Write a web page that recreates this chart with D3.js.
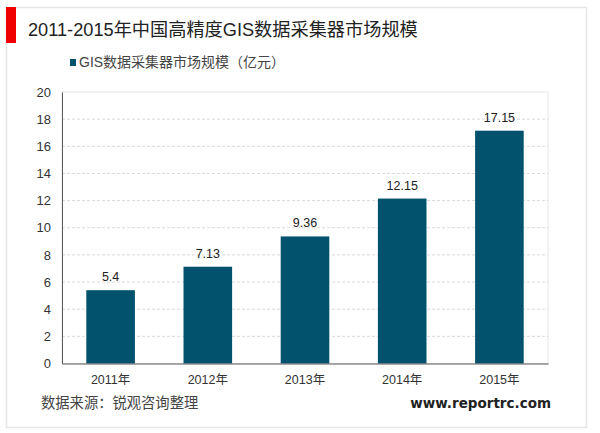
<!DOCTYPE html>
<html>
<head>
<meta charset="utf-8">
<script src="https://cdn.jsdelivr.net/npm/d3@7"></script>
<style>
  html, body { margin: 0; padding: 0; background: #fff; }
  text { font-family: "Liberation Sans", "Noto Sans CJK SC", sans-serif; }
</style>
</head>
<body>
<div id="chart"></div>
<script>
var years = ["2011年", "2012年", "2013年", "2014年", "2015年"];
var values = [5.4, 7.13, 9.36, 12.15, 17.15];
var valueLabels = ["5.4", "7.13", "9.36", "12.15", "17.15"];
var yTicks = [0, 2, 4, 6, 8, 10, 12, 14, 16, 18, 20];

var title = "2011-2015年中国高精度GIS数据采集器市场规模";
var legendText = "GIS数据采集器市场规模（亿元）";
var sourceText = "数据来源：锐观咨询整理";
var siteText = "www.reportrc.com";

var svg = d3.select("#chart").append("svg")
    .attr("width", 600)
    .attr("height", 433)
    .style("display", "block");

// outer frame and red tab
svg.append("rect")
    .attr("x", 6.5).attr("y", 7.5)
    .attr("width", 580).attr("height", 420)
    .attr("fill", "#fff")
    .attr("stroke", "#e6e6e6")
    .attr("stroke-width", 1.5);
svg.append("rect")
    .attr("x", 6).attr("y", 7)
    .attr("width", 10).attr("height", 36)
    .attr("fill", "#f00000");

svg.append("text")
    .attr("x", 28).attr("y", 36)
    .attr("font-size", 18.2)
    .attr("fill", "#222")
    .text(title);

// legend
svg.append("rect")
    .attr("x", 70).attr("y", 59)
    .attr("width", 6).attr("height", 7)
    .attr("fill", "#02526e");
svg.append("text")
    .attr("x", 79).attr("y", 67)
    .attr("font-size", 14)
    .attr("fill", "#444")
    .text(legendText);

var x = d3.scaleBand().domain(years).range([62, 548]).paddingInner(0.5).paddingOuter(0.25);
var y = d3.scaleLinear().domain([0, 20]).range([363.5, 92]);

// plot box
svg.append("rect")
    .attr("x", 62).attr("y", 92)
    .attr("width", 486).attr("height", 271.5)
    .attr("fill", "none")
    .attr("stroke", "#e6e6e6");

// dashed grid
svg.append("g").selectAll("line")
    .data(yTicks.filter(function(d){ return d > 0 && d < 20; }))
    .enter().append("line")
    .attr("x1", 62).attr("x2", 548)
    .attr("y1", function(d){ return y(d); })
    .attr("y2", function(d){ return y(d); })
    .attr("stroke", "#d9d9d9")
    .attr("stroke-dasharray", "3,2");

svg.append("g").selectAll("rect")
    .data(values)
    .enter().append("rect")
    .attr("x", function(d, i){ return x(years[i]); })
    .attr("y", function(d){ return y(d); })
    .attr("width", x.bandwidth())
    .attr("height", function(d){ return y(0) - y(d); })
    .attr("fill", "#02526e");

svg.append("g").selectAll("text")
    .data(values)
    .enter().append("text")
    .attr("x", function(d, i){ return x(years[i]) + x.bandwidth() / 2; })
    .attr("y", function(d){ return y(d) - 9; })
    .attr("text-anchor", "middle")
    .attr("font-size", 12.5)
    .attr("fill", "#222")
    .text(function(d, i){ return valueLabels[i]; });

// axes
var yAxis = svg.append("g")
    .attr("transform", "translate(62,0)")
    .call(d3.axisLeft(y).tickValues(yTicks).tickSize(0).tickPadding(11));
yAxis.select(".domain").attr("stroke", "#595959").attr("stroke-width", 1);
yAxis.selectAll("text").attr("font-size", 13).attr("fill", "#333");

var xAxis = svg.append("g")
    .attr("transform", "translate(0,363.5)")
    .call(d3.axisBottom(x).tickSize(0).tickPadding(12));
xAxis.select(".domain").attr("stroke", "#595959").attr("stroke-width", 1);
xAxis.selectAll("text").attr("font-size", 12.5).attr("fill", "#333");

svg.append("text")
    .attr("x", 41).attr("y", 408)
    .attr("font-size", 14.3)
    .attr("fill", "#444")
    .text(sourceText);

svg.append("text")
    .attr("x", 551).attr("y", 408)
    .attr("text-anchor", "end")
    .style("font-family", "'DejaVu Sans', sans-serif")
    .attr("font-size", 13.5)
    .attr("font-weight", "bold")
    .attr("fill", "#222")
    .text(siteText);
</script>
</body>
</html>
